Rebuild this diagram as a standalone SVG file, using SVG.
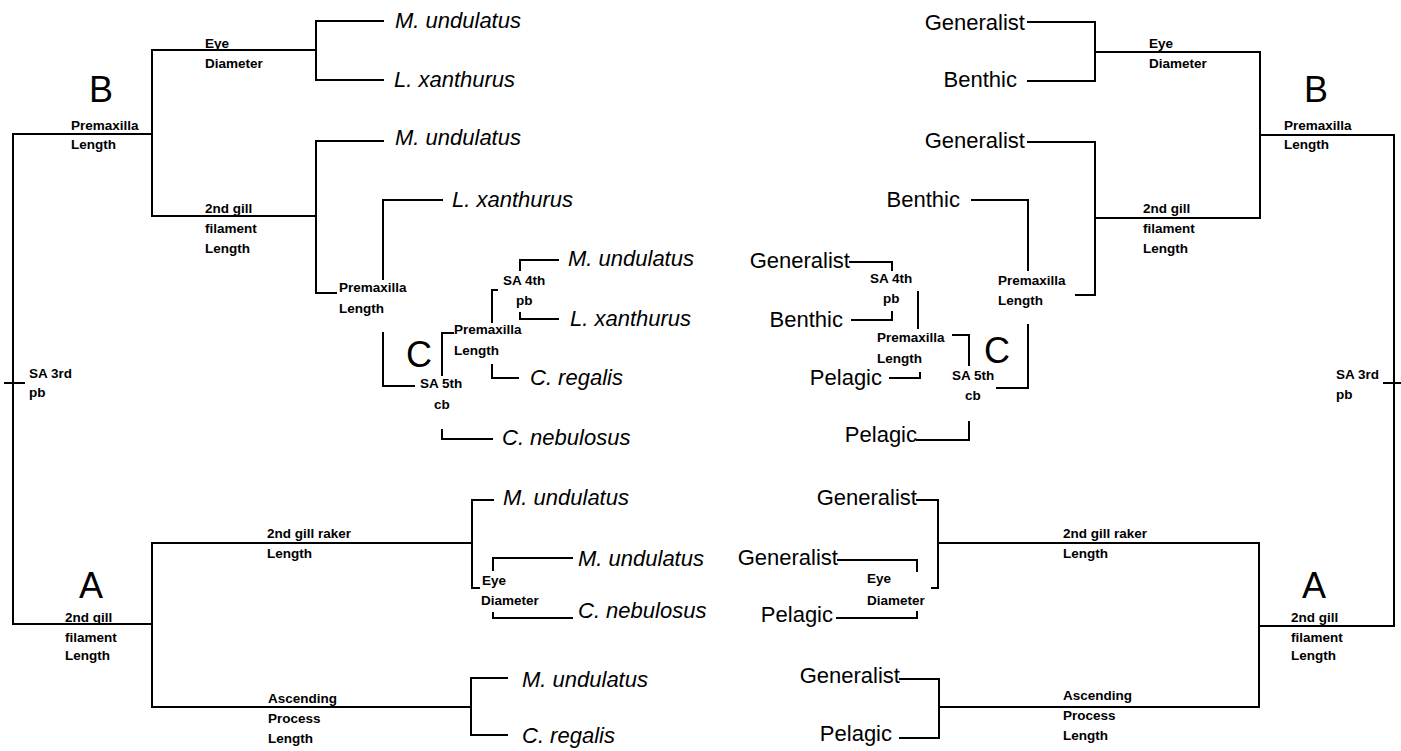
<svg xmlns="http://www.w3.org/2000/svg" width="1401" height="751" viewBox="0 0 1401 751">
<style>
.ln{fill:none;stroke:#000;stroke-width:2;stroke-linecap:square}
.sp{font-family:"Liberation Sans",Arial,sans-serif;font-style:italic;font-size:22px;fill:#000}
.hb{font-family:"Liberation Sans",Arial,sans-serif;font-size:22px;fill:#000;text-anchor:end}
.lb{font-family:"Liberation Sans",Arial,sans-serif;font-size:13.5px;font-weight:bold;fill:#000}
.big{font-family:"Liberation Sans",Arial,sans-serif;font-size:36px;fill:#000}
</style>
<rect width="1401" height="751" fill="#fff"/>
<g id="connectors">
<!-- left B -->
<polyline class="ln" points="383,21 316,21 316,80 383,80"/>
<polyline class="ln" points="316,50 152,50 152,216 316,216"/>
<polyline class="ln" points="152,134 13,134 13,624 152,624"/>
<line class="ln" x1="5" y1="383" x2="24" y2="383"/>
<polyline class="ln" points="383,141 316,141 316,293 336,293"/>
<polyline class="ln" points="442,200 383,200 383,279"/>
<polyline class="ln" points="383,333 383,386 414,386"/>
<!-- left C -->
<polyline class="ln" points="453,333 442,333 442,375"/>
<polyline class="ln" points="442,430 442,439 492,439"/>
<polyline class="ln" points="497,290 492,290 492,322"/>
<polyline class="ln" points="492,365 492,378 518,378"/>
<polyline class="ln" points="520,270 520,260 558,260"/>
<polyline class="ln" points="520,313 520,319 558,319"/>
<!-- left A -->
<polyline class="ln" points="152,624 152,543 472,543"/>
<polyline class="ln" points="152,624 152,707 471,707"/>
<polyline class="ln" points="493,500 472,500 472,588 479,588"/>
<polyline class="ln" points="493,570 493,558 572,558"/>
<polyline class="ln" points="493,613 493,618 572,618"/>
<polyline class="ln" points="507,678 471,678 471,735 507,735"/>
<!-- right B -->
<polyline class="ln" points="1028,22 1095,22 1095,81 1028,81"/>
<polyline class="ln" points="1095,52 1260,52 1260,218 1095,218"/>
<polyline class="ln" points="1260,135 1394,135 1394,626 1259,626"/>
<line class="ln" x1="1384" y1="383" x2="1400" y2="383"/>
<polyline class="ln" points="1028,142 1095,142 1095,295 1076,295"/>
<polyline class="ln" points="972,200 1028,200 1028,270"/>
<polyline class="ln" points="1028,325 1028,388 997,388"/>
<!-- right C -->
<polyline class="ln" points="850,262 892,262 892,270"/>
<polyline class="ln" points="852,320 892,320 892,312"/>
<line class="ln" x1="918" y1="292" x2="918" y2="328"/>
<polyline class="ln" points="953,335 969,335 969,365"/>
<polyline class="ln" points="890,378 920,378 920,373"/>
<polyline class="ln" points="917,440 969,440 969,422"/>
<!-- right A -->
<polyline class="ln" points="917,500 938,500 938,588 932,588"/>
<polyline class="ln" points="938,543 1259,543 1259,707 939,707"/>
<polyline class="ln" points="838,560 917,560 917,571"/>
<polyline class="ln" points="837,618 917,618 917,612"/>
<polyline class="ln" points="900,679 939,679 939,738 900,738"/>
</g>
<g id="left-B">
<text class="big" x="89" y="102">B</text>
<text class="lb" x="71" y="130">Premaxilla</text><text class="lb" x="71" y="149">Length</text>
<text class="lb" x="205" y="48">Eye</text><text class="lb" x="205" y="68">Diameter</text>
<text class="lb" x="205" y="213">2nd gill</text><text class="lb" x="205" y="233">filament</text><text class="lb" x="205" y="253">Length</text>
<text class="lb" x="339" y="292">Premaxilla</text><text class="lb" x="339" y="313">Length</text>
<text class="lb" x="29" y="378">SA 3rd</text><text class="lb" x="29" y="397">pb</text>
<text class="sp" x="395" y="28">M. undulatus</text>
<text class="sp" x="394" y="87">L. xanthurus</text>
<text class="sp" x="395" y="145">M. undulatus</text>
<text class="sp" x="452" y="207">L. xanthurus</text>
</g>
<g id="left-C">
<text class="big" x="406" y="367">C</text>
<text class="lb" x="503" y="285">SA 4th</text><text class="lb" x="516" y="305">pb</text>
<text class="lb" x="454" y="334">Premaxilla</text><text class="lb" x="454" y="355">Length</text>
<text class="lb" x="420" y="388">SA 5th</text><text class="lb" x="434" y="409">cb</text>
<text class="sp" x="568" y="266">M. undulatus</text>
<text class="sp" x="570" y="326">L. xanthurus</text>
<text class="sp" x="530" y="385">C. regalis</text>
<text class="sp" x="502" y="445">C. nebulosus</text>
</g>
<g id="left-A">
<text class="big" x="79" y="598">A</text>
<text class="lb" x="65" y="622">2nd gill</text><text class="lb" x="65" y="642">filament</text><text class="lb" x="65" y="660">Length</text>
<text class="lb" x="267" y="538">2nd gill raker</text><text class="lb" x="267" y="558">Length</text>
<text class="lb" x="268" y="703">Ascending</text><text class="lb" x="268" y="723">Process</text><text class="lb" x="268" y="743">Length</text>
<text class="lb" x="482" y="585">Eye</text><text class="lb" x="481" y="605">Diameter</text>
<text class="sp" x="503" y="505">M. undulatus</text>
<text class="sp" x="578" y="566">M. undulatus</text>
<text class="sp" x="578" y="618">C. nebulosus</text>
<text class="sp" x="522" y="687">M. undulatus</text>
<text class="sp" x="522" y="743">C. regalis</text>
</g>
<g id="right-B">
<text class="big" x="1304" y="102">B</text>
<text class="lb" x="1284" y="130">Premaxilla</text><text class="lb" x="1284" y="149">Length</text>
<text class="lb" x="1149" y="48">Eye</text><text class="lb" x="1149" y="68">Diameter</text>
<text class="lb" x="1143" y="213">2nd gill</text><text class="lb" x="1143" y="233">filament</text><text class="lb" x="1143" y="253">Length</text>
<text class="lb" x="998" y="285">Premaxilla</text><text class="lb" x="998" y="305">Length</text>
<text class="lb" x="1336" y="379">SA 3rd</text><text class="lb" x="1336" y="399">pb</text>
<text class="hb" x="1025" y="30">Generalist</text>
<text class="hb" x="1017" y="87">Benthic</text>
<text class="hb" x="1025" y="148">Generalist</text>
<text class="hb" x="960" y="207">Benthic</text>
</g>
<g id="right-C">
<text class="big" x="984" y="363">C</text>
<text class="lb" x="870" y="283">SA 4th</text><text class="lb" x="883" y="303">pb</text>
<text class="lb" x="877" y="342">Premaxilla</text><text class="lb" x="877" y="363">Length</text>
<text class="lb" x="952" y="380">SA 5th</text><text class="lb" x="965" y="400">cb</text>
<text class="hb" x="850" y="268">Generalist</text>
<text class="hb" x="843" y="327">Benthic</text>
<text class="hb" x="882" y="385">Pelagic</text>
<text class="hb" x="917" y="442">Pelagic</text>
</g>
<g id="right-A">
<text class="big" x="1302" y="598">A</text>
<text class="lb" x="1291" y="622">2nd gill</text><text class="lb" x="1291" y="642">filament</text><text class="lb" x="1291" y="660">Length</text>
<text class="lb" x="1063" y="538">2nd gill raker</text><text class="lb" x="1063" y="558">Length</text>
<text class="lb" x="1063" y="700">Ascending</text><text class="lb" x="1063" y="720">Process</text><text class="lb" x="1063" y="740">Length</text>
<text class="lb" x="867" y="583">Eye</text><text class="lb" x="867" y="605">Diameter</text>
<text class="hb" x="917" y="505">Generalist</text>
<text class="hb" x="838" y="565">Generalist</text>
<text class="hb" x="833" y="622">Pelagic</text>
<text class="hb" x="900" y="683">Generalist</text>
<text class="hb" x="892" y="741">Pelagic</text>
</g>
</svg>
